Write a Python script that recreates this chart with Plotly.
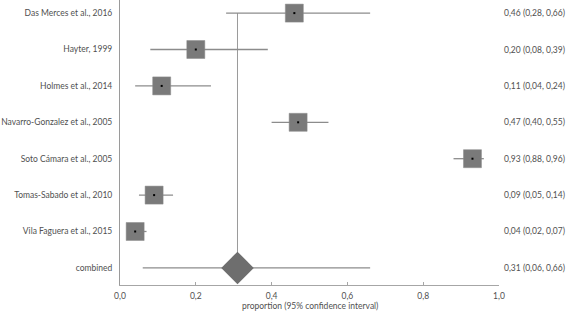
import plotly.graph_objects as go

studies = ["Das Merces et al., 2016", "Hayter, 1999", "Holmes et al., 2014",
           "Navarro-Gonzalez et al., 2005", "Soto Cámara et al., 2005",
           "Tomas-Sabado et al., 2010", "Vila Faguera et al., 2015"]
est = [0.46, 0.20, 0.11, 0.47, 0.93, 0.09, 0.04]
lo = [0.28, 0.08, 0.04, 0.40, 0.88, 0.05, 0.02]
hi = [0.66, 0.39, 0.24, 0.55, 0.96, 0.14, 0.07]

combined_label = "combined"
comb_est, comb_lo, comb_hi = 0.31, 0.06, 0.66

x_ticks = [0.0, 0.2, 0.4, 0.6, 0.8, 1.0]
x_title = "proportion (95% confidence interval)"

labels = studies + [combined_label]
rows = list(range(len(labels)))

FONT = "Lato"
FS = 8.5
TXT = "#505050"
GREY = "#7a7a7a"
LINE = "#8c8c8c"

def fmt(v):
    return f"{v:.2f}".replace(".", ",")

fig = go.Figure()

# vertical reference line at combined estimate
fig.add_trace(go.Scatter(x=[comb_est, comb_est], y=[0, len(labels) - 1], mode="lines",
                         line=dict(color="#9a9a9a", width=1), hoverinfo="skip", showlegend=False))

# combined CI line
fig.add_trace(go.Scatter(x=[comb_lo, comb_hi], y=[len(labels) - 1] * 2, mode="lines",
                         line=dict(color=LINE, width=1.3), showlegend=False))

# studies: CI lines
for i in range(len(studies)):
    fig.add_trace(go.Scatter(x=[lo[i], hi[i]], y=[i, i], mode="lines",
                             line=dict(color=LINE, width=1.3), showlegend=False))

# squares
fig.add_trace(go.Scatter(x=est, y=rows[:len(studies)], mode="markers",
                         marker=dict(symbol="square", size=18, color=GREY,
                                     line=dict(color="#8a8a8a", width=0.5)),
                         showlegend=False))
# center dots
fig.add_trace(go.Scatter(x=est, y=rows[:len(studies)], mode="markers",
                         marker=dict(symbol="square", size=2, color="black"),
                         showlegend=False))
# diamond
fig.add_trace(go.Scatter(x=[comb_est], y=[len(labels) - 1], mode="markers",
                         marker=dict(symbol="diamond", size=25, color="#6e6e6e"),
                         showlegend=False))

# right-side text
right_texts = [f"{fmt(e)} ({fmt(l)}, {fmt(h)})" for e, l, h in zip(est, lo, hi)]
right_texts.append(f"{fmt(comb_est)} ({fmt(comb_lo)}, {fmt(comb_hi)})")
for r, t in zip(rows, right_texts):
    fig.add_annotation(x=1, xref="paper", y=r, yref="y", text=t, showarrow=False,
                       xanchor="left", xshift=3, font=dict(family=FONT, size=FS, color=TXT))

fig.add_annotation(x=0.5, xref="paper", y=0, yref="paper", yanchor="top", yshift=-14,
                   text=x_title, showarrow=False, font=dict(family=FONT, size=FS, color=TXT))

fig.update_layout(
    width=567, height=312,
    margin=dict(l=120, r=68, t=0, b=27),
    paper_bgcolor="white", plot_bgcolor="white",
    separators=", ",
    font=dict(family=FONT, size=FS, color=TXT),
    xaxis=dict(range=[0, 1], tickvals=x_ticks, tickformat=".1f", showgrid=False,
               zeroline=False, showline=True, linecolor="#a6a6a6", linewidth=1,
               ticks="inside", ticklen=3, tickcolor="#a6a6a6", automargin=False,
               ticklabelstandoff=3,
               tickfont=dict(family=FONT, size=FS, color=TXT)),
    yaxis=dict(range=[len(labels) - 0.53, -0.36], tickvals=rows, ticktext=labels,
               showgrid=False, zeroline=False, showline=True, linecolor="#9a9a9a",
               linewidth=1, ticks="outside", ticklen=5, tickcolor="rgba(0,0,0,0)",
               automargin=False, tickfont=dict(family=FONT, size=FS, color=TXT)),
)

fig.write_html("out.html", config={"displayModeBar": False},
               post_script="document.body.style.margin='0';")
